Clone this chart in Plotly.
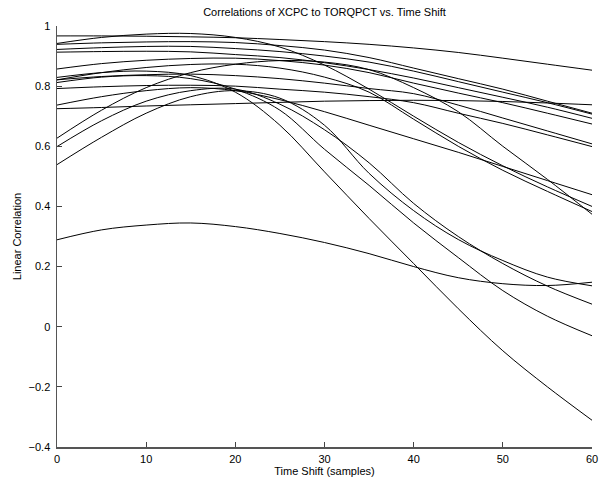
import plotly.graph_objects as go

shift = [0, 5, 10, 15, 20, 25, 30, 35, 40, 45, 50, 55, 60]

curve_F = [0.967, 0.967, 0.966, 0.964, 0.961, 0.955, 0.948, 0.939, 0.927, 0.912, 0.893, 0.873, 0.853]
curve_G = [0.942, 0.962, 0.973, 0.975, 0.962, 0.930, 0.870, 0.790, 0.700, 0.613, 0.535, 0.465, 0.400]
curve_I = [0.939, 0.944, 0.947, 0.948, 0.945, 0.935, 0.920, 0.895, 0.860, 0.825, 0.790, 0.750, 0.710]
curve_J = [0.922, 0.928, 0.932, 0.932, 0.925, 0.915, 0.900, 0.880, 0.850, 0.815, 0.780, 0.745, 0.707]
curve_K = [0.913, 0.915, 0.916, 0.914, 0.905, 0.895, 0.878, 0.855, 0.827, 0.795, 0.763, 0.730, 0.693]
curve_L = [0.857, 0.875, 0.886, 0.892, 0.893, 0.885, 0.870, 0.845, 0.810, 0.777, 0.745, 0.710, 0.674]
curve_N = [0.821, 0.832, 0.838, 0.840, 0.835, 0.825, 0.810, 0.792, 0.775, 0.737, 0.694, 0.651, 0.608]
curve_O = [0.792, 0.798, 0.802, 0.803, 0.800, 0.790, 0.780, 0.765, 0.745, 0.710, 0.676, 0.638, 0.599]
curve_P = [0.737, 0.765, 0.785, 0.795, 0.785, 0.755, 0.715, 0.670, 0.625, 0.580, 0.533, 0.486, 0.439]
curve_H = [0.725, 0.729, 0.734, 0.738, 0.742, 0.746, 0.750, 0.752, 0.753, 0.752, 0.749, 0.744, 0.738]
curve_M = [0.627, 0.720, 0.795, 0.845, 0.873, 0.885, 0.880, 0.855, 0.795, 0.715, 0.600, 0.490, 0.374]
curve_Q = [0.821, 0.845, 0.862, 0.872, 0.873, 0.860, 0.830, 0.780, 0.690, 0.600, 0.520, 0.450, 0.383]
curve_B = [0.829, 0.845, 0.850, 0.835, 0.780, 0.670, 0.515, 0.360, 0.210, 0.060, -0.080, -0.200, -0.311]
curve_C = [0.812, 0.830, 0.835, 0.825, 0.790, 0.720, 0.590, 0.470, 0.345, 0.230, 0.120, 0.035, -0.030]
curve_D = [0.599, 0.685, 0.750, 0.785, 0.790, 0.740, 0.655, 0.545, 0.410, 0.300, 0.210, 0.135, 0.075]
curve_E = [0.539, 0.630, 0.710, 0.765, 0.785, 0.760, 0.670, 0.510, 0.386, 0.290, 0.220, 0.165, 0.136]
curve_A = [0.289, 0.322, 0.338, 0.345, 0.333, 0.310, 0.280, 0.243, 0.200, 0.163, 0.143, 0.137, 0.148]

curves = [curve_F, curve_G, curve_I, curve_J, curve_K, curve_L, curve_N, curve_O,
          curve_P, curve_H, curve_M, curve_Q, curve_B, curve_C, curve_D, curve_E, curve_A]

x_ticks = [0, 10, 20, 30, 40, 50, 60]
y_ticks = [-0.4, -0.2, 0, 0.2, 0.4, 0.6, 0.8, 1]
y_tick_text = ["\u22120.4", "\u22120.2", "0", "0.2", "0.4", "0.6", "0.8", "1"]

fig = go.Figure()
for c in curves:
    fig.add_trace(go.Scatter(x=shift, y=c, mode="lines",
                             line=dict(color="black", width=1, shape="spline", smoothing=1.0),
                             showlegend=False, hoverinfo="skip"))

font = dict(family="Liberation Sans, Arial, Helvetica, sans-serif", size=11, color="black")

fig.update_layout(
    width=603, height=479,
    margin=dict(l=57, r=11, t=26, b=32, autoexpand=False),
    paper_bgcolor="white", plot_bgcolor="white",
    font=font,
    title=dict(text="Correlations of XCPC to TORQPCT vs. Time Shift", x=0.5, xref="paper",
               y=1 - 12 / 479, yref="container", xanchor="center", yanchor="middle",
               font=dict(size=11)),
    xaxis=dict(range=[0, 60], tickvals=x_ticks, ticks="inside", ticklen=5, tickcolor="#444",
               showline=True, linecolor="#555", linewidth=1.5, showgrid=False, zeroline=False,
               automargin=False, ticklabelstandoff=1,
               title=dict(text="Time Shift (samples)", standoff=0, font=dict(size=11))),
    yaxis=dict(range=[-0.4, 1], tickvals=y_ticks, ticktext=y_tick_text, ticks="inside",
               ticklen=5, tickcolor="#444", automargin=False, ticklabelstandoff=3,
               showline=True, linecolor="#555", linewidth=1.5, showgrid=False, zeroline=False,
               title=dict(text="Linear Correlation", standoff=4, font=dict(size=11))),
)

fig.write_html("out.html", config={"displayModeBar": False, "staticPlot": True},
               post_script="document.body.style.margin='0';document.body.style.overflow='hidden';")
